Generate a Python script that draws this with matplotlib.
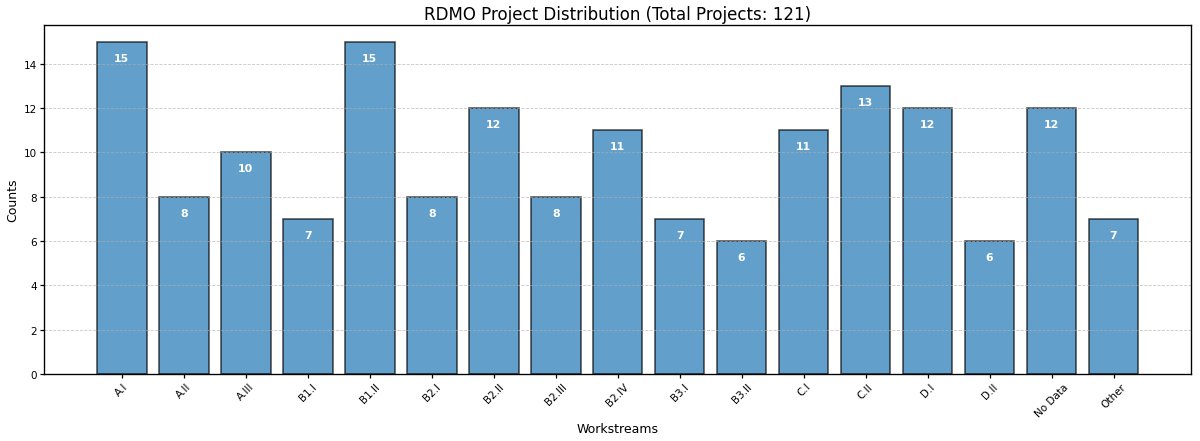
import matplotlib
matplotlib.use("Agg")
import matplotlib.pyplot as plt

workstreams = ["A.I", "A.II", "A.III", "B1.I", "B1.II", "B2.I", "B2.II", "B2.III", "B2.IV",
               "B3.I", "B3.II", "C.I", "C.II", "D.I", "D.II", "No Data", "Other"]
counts = [15, 8, 10, 7, 15, 8, 12, 8, 11, 7, 6, 11, 13, 12, 6, 12, 7]
total_projects = 121

plt.rcParams["axes.linewidth"] = 1.3
plt.rcParams["xtick.major.width"] = 1.2
plt.rcParams["ytick.major.width"] = 1.2

# 16 x 5.893 in at 75 dpi -> 1200 x 442 px
fig, ax = plt.subplots(figsize=(16, 5.893), dpi=75)

x = range(len(workstreams))
ax.bar(x, counts, color="tab:blue", edgecolor="black", alpha=0.7, linewidth=1.5)

for i, v in enumerate(counts):
    ax.text(i, v - 0.5, str(v), ha="center", va="top", color="white",
            fontweight="bold", fontsize=10.5)

ax.set_xticks(list(x))
ax.set_xticklabels(workstreams, rotation=45)
ax.set_xlim(-1.25, len(workstreams) - 1 + 1.25)
ax.grid(axis="y", linestyle="--", alpha=0.7)

ax.set_title(f"RDMO Project Distribution (Total Projects: {total_projects})", fontsize=16)
ax.set_xlabel("Workstreams", fontsize=12)
ax.set_ylabel("Counts", fontsize=12)

plt.subplots_adjust(left=0.037, right=0.9925, top=0.941, bottom=0.152)
plt.savefig("out.png")
